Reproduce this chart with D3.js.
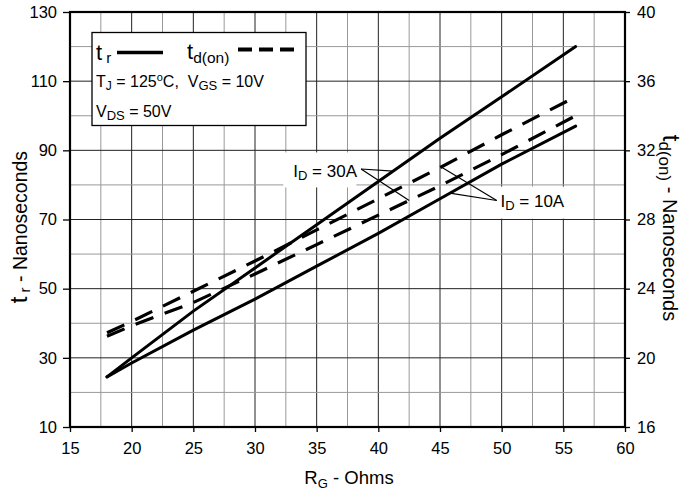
<!DOCTYPE html>
<html>
<head>
<meta charset="utf-8">
<script src="https://cdn.jsdelivr.net/npm/d3@7"></script>
<style>
  body { margin: 0; background: white; }
  text { font-family: "Liberation Sans", Arial, sans-serif; fill: black; }
</style>
</head>
<body>
<div id="chart"></div>
<script>
var rg = [18, 20, 25, 30, 35, 40, 45, 50, 56];
// rise time, left axis (ns)
var tr30 = [24.5, 30, 43.5, 56, 68.5, 81, 93.5, 105.5, 120];
var tr10 = [24.5, 28.5, 38, 47, 56.5, 66, 76, 86, 97];
// turn-on delay, right axis (ns)
var td10 = [21.45, 22.1, 23.85, 25.6, 27.4, 29.2, 31.0, 32.9, 35.1];
var td30 = [21.25, 21.85, 23.2, 24.85, 26.55, 28.25, 29.95, 31.75, 34.0];

var xTicks = [15, 20, 25, 30, 35, 40, 45, 50, 55, 60];
var yLeftTicks = [10, 30, 50, 70, 90, 110, 130];
var yRightTicks = [16, 20, 24, 28, 32, 36, 40];

var width = 687, height = 491;
var margin = { top: 12, right: 62, bottom: 64, left: 70 };

var svg = d3.select("#chart")
  .append("svg")
  .attr("width", width)
  .attr("height", height);

var x = d3.scaleLinear().domain([15, 60]).range([margin.left, width - margin.right]);
var yL = d3.scaleLinear().domain([10, 130]).range([height - margin.bottom, margin.top]);
var yR = d3.scaleLinear().domain([16, 40]).range([height - margin.bottom, margin.top]);

// grid: every 2.5 Ohm and every 10 ns, majors darker
d3.range(17.5, 60, 2.5).forEach(function (v) {
  svg.append("line")
    .attr("x1", x(v)).attr("x2", x(v))
    .attr("y1", yL(10)).attr("y2", yL(130))
    .attr("stroke", v % 5 == 0 ? "#222" : "#999")
    .attr("stroke-width", 1);
});
d3.range(20, 130, 10).forEach(function (v) {
  svg.append("line")
    .attr("x1", x(15)).attr("x2", x(60))
    .attr("y1", yL(v)).attr("y2", yL(v))
    .attr("stroke", (v - 10) % 20 == 0 ? "#222" : "#999")
    .attr("stroke-width", 1);
});

// axes
svg.append("g")
  .attr("transform", "translate(0," + yL(10) + ")")
  .call(d3.axisBottom(x).tickValues(xTicks).tickSize(5).tickPadding(10))
  .call(function (g) { g.select(".domain").remove(); })
  .selectAll("text").style("font-size", "16.5px");
svg.append("g")
  .attr("transform", "translate(" + x(15) + ",0)")
  .call(d3.axisLeft(yL).tickValues(yLeftTicks).tickSize(7).tickPadding(6))
  .call(function (g) { g.select(".domain").remove(); })
  .selectAll("text").style("font-size", "16.5px");
svg.append("g")
  .attr("transform", "translate(" + x(60) + ",0)")
  .call(d3.axisRight(yR).tickValues(yRightTicks).tickSize(5).tickPadding(7))
  .call(function (g) { g.select(".domain").remove(); })
  .selectAll("text").style("font-size", "16.5px");
svg.selectAll(".tick line").attr("stroke", "black").attr("stroke-width", 1.3);

// frame
svg.append("rect")
  .attr("x", x(15)).attr("y", yL(130))
  .attr("width", x(60) - x(15)).attr("height", yL(10) - yL(130))
  .attr("fill", "none").attr("stroke", "black").attr("stroke-width", 2.2);

// white boxes behind the current labels
svg.append("rect")
  .attr("x", x(32.3)).attr("y", yL(89.4))
  .attr("width", 73).attr("height", 35).attr("fill", "white");
svg.append("rect")
  .attr("x", x(49.3)).attr("y", yL(79.5))
  .attr("width", 79).attr("height", 32).attr("fill", "white");

// curves
var lineL = d3.line()
  .x(function (d) { return x(d[0]); })
  .y(function (d) { return yL(d[1]); });
var lineR = d3.line()
  .x(function (d) { return x(d[0]); })
  .y(function (d) { return yR(d[1]); });

[tr30, tr10].forEach(function (s) {
  svg.append("path")
    .datum(d3.zip(rg, s))
    .attr("d", lineL)
    .attr("fill", "none").attr("stroke", "black")
    .attr("stroke-width", 3).attr("stroke-linecap", "round");
});
[td10, td30].forEach(function (s) {
  svg.append("path")
    .datum(d3.zip(rg, s))
    .attr("d", lineR)
    .attr("fill", "none").attr("stroke", "black")
    .attr("stroke-width", 3.2).attr("stroke-dasharray", "19,12");
});

// value of a series at any rg, used for the leader ends
function at(s, v) {
  var i = d3.bisectRight(rg, v) - 1;
  i = Math.max(0, Math.min(i, rg.length - 2));
  var t = (v - rg[i]) / (rg[i + 1] - rg[i]);
  return s[i] + t * (s[i + 1] - s[i]);
}

function leader(x0, y0, x1, y1) {
  svg.append("line")
    .attr("x1", x0).attr("y1", y0).attr("x2", x1).attr("y2", y1)
    .attr("stroke", "black").attr("stroke-width", 1.2);
}

// I_D = 30A
leader(x(38.6), yL(84.6), x(41.2), yL(at(tr30, 41.2)));
leader(x(38.6), yL(84.6), x(42.5), yR(at(td30, 42.5)));
// I_D = 10A
leader(x(49.6), yL(75.5), x(45.1), yR(at(td10, 45.1)));
leader(x(49.6), yL(75.5), x(45.8), yL(at(tr10, 45.8)));

function idLabel(px, py, amps) {
  var t = svg.append("text").attr("x", px).attr("y", py).style("font-size", "17px");
  t.append("tspan").text("I");
  t.append("tspan").attr("dy", 3).style("font-size", "13px").text("D");
  t.append("tspan").attr("dy", -3).text(" = " + amps);
}
idLabel(x(33.1), yL(82.4), "30A");
idLabel(x(49.9), yL(73.5), "10A");

// legend box
var lg = svg.append("g");
lg.append("rect")
  .attr("x", 92).attr("y", 32.5).attr("width", 214).attr("height", 93)
  .attr("fill", "white").attr("stroke", "black").attr("stroke-width", 1.3);
var t1 = lg.append("text").attr("x", 96).attr("y", 60);
t1.append("tspan").style("font-size", "22px").text("t");
t1.append("tspan").attr("dx", 4).attr("dy", 3).style("font-size", "15px").text("r");
lg.append("line")
  .attr("x1", 117).attr("x2", 163).attr("y1", 52.5).attr("y2", 52.5)
  .attr("stroke", "black").attr("stroke-width", 3.5);
var t2 = lg.append("text").attr("x", 187).attr("y", 59);
t2.append("tspan").style("font-size", "22px").text("t");
t2.append("tspan").attr("dy", 4).style("font-size", "15.5px").text("d(on)");
lg.append("line")
  .attr("x1", 238).attr("x2", 294).attr("y1", 49.5).attr("y2", 49.5)
  .attr("stroke", "black").attr("stroke-width", 4).attr("stroke-dasharray", "14,7");

var t3 = lg.append("text").attr("x", 96).attr("y", 87).style("font-size", "16px");
t3.append("tspan").text("T");
t3.append("tspan").attr("dy", 3).style("font-size", "12px").text("J");
t3.append("tspan").attr("dy", -3).text(" = 125");
t3.append("tspan").attr("dy", -6).style("font-size", "11px").text("o");
t3.append("tspan").attr("dy", 6).text("C,\u00a0\u00a0V");
t3.append("tspan").attr("dy", 3).style("font-size", "13px").text("GS");
t3.append("tspan").attr("dy", -3).text(" = 10V");

var t4 = lg.append("text").attr("x", 96).attr("y", 117).style("font-size", "16px");
t4.append("tspan").text("V");
t4.append("tspan").attr("dy", 3).style("font-size", "13px").text("DS");
t4.append("tspan").attr("dy", -3).text(" = 50V");

// axis titles
var xt = svg.append("text")
  .attr("x", 349).attr("y", 484)
  .attr("text-anchor", "middle").style("font-size", "18.5px");
xt.append("tspan").text("R");
xt.append("tspan").attr("dy", 4).style("font-size", "13px").text("G");
xt.append("tspan").attr("dy", -4).text(" - Ohms");

var ylt = svg.append("text")
  .attr("transform", "translate(27,227) rotate(-90)")
  .attr("text-anchor", "middle").style("font-size", "19.5px");
ylt.append("tspan").style("font-size", "24px").text("t");
ylt.append("tspan").attr("dx", 4).attr("dy", 3).style("font-size", "15px").text("r");
ylt.append("tspan").attr("dy", -3).text(" - Nanoseconds");

var yrt = svg.append("text")
  .attr("transform", "translate(663,228) rotate(90)")
  .attr("text-anchor", "middle").style("font-size", "20px");
yrt.append("tspan").style("font-size", "24px").text("t");
yrt.append("tspan").attr("dy", 4).style("font-size", "17px").text("d(on)");
yrt.append("tspan").attr("dy", -4).text(" - Nanoseconds");
</script>
</body>
</html>
